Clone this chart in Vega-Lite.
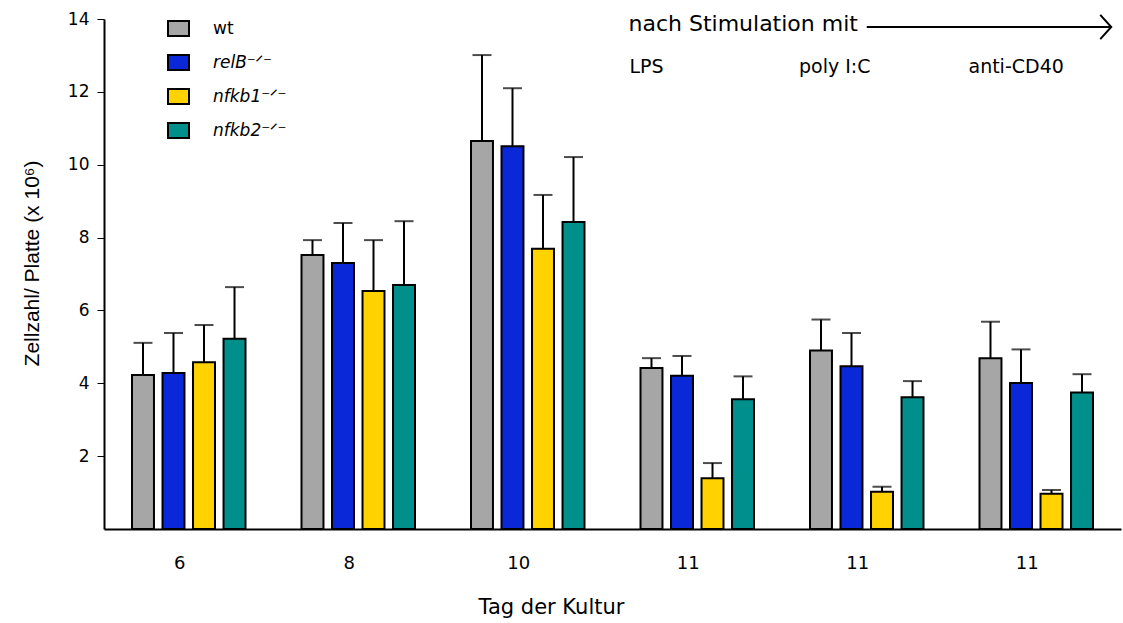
{
  "$schema": "https://vega.github.io/schema/vega-lite/v6.json",
  "width": 1017,
  "height": 510,
  "autosize": {"type": "none"},
  "padding": {"left": 104, "top": 19, "right": 2, "bottom": 94},
  "background": "white",
  "config": {
    "view": {"stroke": null},
    "font": "DejaVu Sans",
    "axis": {"labelFont": "DejaVu Sans", "titleFont": "DejaVu Sans", "labelColor": "black", "titleColor": "black", "titleFontWeight": "normal"},
    "legend": {"labelFont": "DejaVu Sans"}
  },
  "datasets": {
    "cells": [
      {"group": "d6", "genotype": "wt", "value": 4.23, "upper": 5.11},
      {"group": "d6", "genotype": "relB", "value": 4.28, "upper": 5.38},
      {"group": "d6", "genotype": "nfkb1", "value": 4.58, "upper": 5.6},
      {"group": "d6", "genotype": "nfkb2", "value": 5.22, "upper": 6.64},
      {"group": "d8", "genotype": "wt", "value": 7.52, "upper": 7.93},
      {"group": "d8", "genotype": "relB", "value": 7.3, "upper": 8.4},
      {"group": "d8", "genotype": "nfkb1", "value": 6.53, "upper": 7.93},
      {"group": "d8", "genotype": "nfkb2", "value": 6.7, "upper": 8.45},
      {"group": "d10", "genotype": "wt", "value": 10.65, "upper": 13.01},
      {"group": "d10", "genotype": "relB", "value": 10.51, "upper": 12.1},
      {"group": "d10", "genotype": "nfkb1", "value": 7.69, "upper": 9.17},
      {"group": "d10", "genotype": "nfkb2", "value": 8.43, "upper": 10.21},
      {"group": "LPS", "genotype": "wt", "value": 4.42, "upper": 4.69},
      {"group": "LPS", "genotype": "relB", "value": 4.21, "upper": 4.75},
      {"group": "LPS", "genotype": "nfkb1", "value": 1.39, "upper": 1.81},
      {"group": "LPS", "genotype": "nfkb2", "value": 3.56, "upper": 4.19},
      {"group": "polyIC", "genotype": "wt", "value": 4.9, "upper": 5.75},
      {"group": "polyIC", "genotype": "relB", "value": 4.47, "upper": 5.38},
      {"group": "polyIC", "genotype": "nfkb1", "value": 1.02, "upper": 1.16},
      {"group": "polyIC", "genotype": "nfkb2", "value": 3.62, "upper": 4.06},
      {"group": "antiCD40", "genotype": "wt", "value": 4.69, "upper": 5.69},
      {"group": "antiCD40", "genotype": "relB", "value": 4.01, "upper": 4.93},
      {"group": "antiCD40", "genotype": "nfkb1", "value": 0.97, "upper": 1.07},
      {"group": "antiCD40", "genotype": "nfkb2", "value": 3.75, "upper": 4.25}
    ],
    "stimuli": [
      {"group": "LPS", "label": "LPS"},
      {"group": "polyIC", "label": "poly I:C"},
      {"group": "antiCD40", "label": "anti-CD40"}
    ]
  },
  "encoding": {
    "x": {
      "field": "group",
      "type": "nominal",
      "sort": ["d6", "d8", "d10", "LPS", "polyIC", "antiCD40"],
      "scale": {"domain": ["d6", "d8", "d10", "LPS", "polyIC", "antiCD40"], "paddingInner": 0.28, "paddingOuter": 0.14},
      "axis": {
        "title": "Tag der Kultur",
        "titleFontSize": 21,
        "titleX": 447,
        "titleY": 67,
        "labelExpr": "{'d6':'6','d8':'8','d10':'10','LPS':'11','polyIC':'11','antiCD40':'11'}[datum.value]",
        "labelAngle": 0,
        "labelFontSize": 18,
        "labelPadding": 25,
        "labelOffset": -9,
        "ticks": false,
        "domainColor": "black",
        "domainWidth": 2,
        "grid": false
      }
    }
  },
  "layer": [
    {
      "data": {"name": "cells"},
      "mark": {"type": "rule", "stroke": "black", "strokeWidth": 2},
      "encoding": {
        "xOffset": {"field": "genotype", "type": "nominal"},
        "y": {"field": "value", "type": "quantitative"},
        "y2": {"field": "upper"}
      }
    },
    {
      "data": {"name": "cells"},
      "mark": {"type": "tick", "color": "black", "size": 19, "thickness": 2, "orient": "horizontal"},
      "encoding": {
        "xOffset": {"field": "genotype", "type": "nominal"},
        "y": {"field": "upper", "type": "quantitative"}
      }
    },
    {
      "data": {"name": "cells"},
      "mark": {"type": "bar", "stroke": "black", "strokeWidth": 2, "opacity": 1},
      "encoding": {
        "xOffset": {
          "field": "genotype",
          "type": "nominal",
          "sort": ["wt", "relB", "nfkb1", "nfkb2"],
          "scale": {"domain": ["wt", "relB", "nfkb1", "nfkb2"], "paddingInner": 0.28, "paddingOuter": 0.14}
        },
        "y": {
          "field": "value",
          "type": "quantitative",
          "scale": {"domain": [0, 14], "nice": false},
          "axis": {
            "title": "Zellzahl/ Platte (x 10⁶)",
            "titleFont": "Liberation Sans",
            "titleFontSize": 21,
            "titlePadding": 25,
            "titleY": 244,
            "values": [2, 4, 6, 8, 10, 12, 14],
            "labelFontSize": 17,
            "labelPadding": 8,
            "tickSize": 7,
            "tickColor": "black",
            "domainColor": "black",
            "domainWidth": 2,
            "grid": false
          }
        },
        "fill": {
          "field": "genotype",
          "type": "nominal",
          "scale": {"domain": ["wt", "relB", "nfkb1", "nfkb2"], "range": ["#a6a6a6", "#0a28d8", "#ffd200", "#008f8a"]},
          "legend": {
            "title": null,
            "orient": "none",
            "legendX": 66,
            "legendY": 1,
            "symbolType": "M-1.4,-1H1.4V1H-1.4Z",
            "symbolSize": 225,
            "symbolStrokeColor": "black",
            "symbolStrokeWidth": 2,
            "symbolOpacity": 1,
            "rowPadding": 11,
            "labelOffset": 26,
            "labelFontSize": 17,
            "labelColor": "black",
            "labelExpr": "datum.value === 'wt' ? 'wt' : datum.value + '⁻ᐟ⁻'",
            "encode": {"labels": {"update": {"fontStyle": {"signal": "datum.value === 'wt' ? 'normal' : 'italic'"}}}}
          }
        }
      }
    },
    {
      "data": {"values": [{"label": "nach Stimulation mit", "level": 13.86}]},
      "mark": {"type": "text", "align": "left", "baseline": "middle", "fontSize": 22, "dx": -23, "color": "black"},
      "encoding": {
        "x": {"datum": "LPS"},
        "xOffset": {"datum": "wt"},
        "y": {"field": "level", "type": "quantitative"},
        "text": {"field": "label"}
      }
    },
    {
      "data": {"name": "stimuli"},
      "mark": {"type": "text", "align": "left", "baseline": "middle", "fontSize": 19, "dx": -22, "color": "black"},
      "encoding": {
        "xOffset": {"datum": "wt"},
        "y": {"datum": 12.68, "type": "quantitative"},
        "text": {"field": "label"}
      }
    },
    {
      "data": {"values": [{"level": 13.78}]},
      "mark": {"type": "rule", "stroke": "black", "strokeWidth": 2, "x2Offset": 75},
      "encoding": {
        "x": {"datum": "polyIC"},
        "x2": {"datum": "antiCD40"},
        "y": {"field": "level", "type": "quantitative"}
      }
    },
    {
      "data": {"values": [{"level": 13.78}]},
      "mark": {"type": "point", "shape": "M-1,-1.1L0,0L-1,1.1", "size": 484, "filled": false, "stroke": "black", "strokeWidth": 2, "opacity": 1, "xOffset": 75},
      "encoding": {
        "x": {"datum": "antiCD40"},
        "y": {"field": "level", "type": "quantitative"}
      }
    }
  ]
}
